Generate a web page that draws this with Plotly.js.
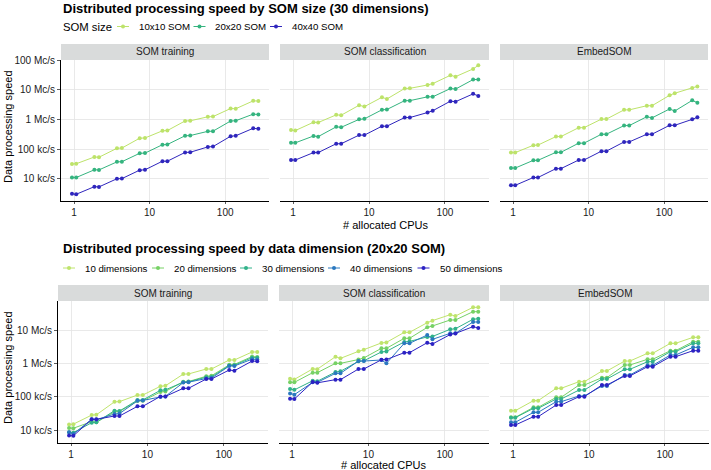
<!DOCTYPE html>
<html>
<head>
<meta charset="utf-8">
<script src="https://cdn.plot.ly/plotly-3.0.1.min.js"></script>
<style>html,body{margin:0;padding:0;background:#fff;}#chart{width:711px;height:470px;}</style>
</head>
<body>
<div id="chart"></div>
<script>
// ---------- DATA (speeds in kc/s, cpus jittered as plotted) ----------
const cpus = [0.94,1.07, 1.86,2.14, 3.7,4.3, 7.4,8.7, 14.8,17.2, 29.5,34.5, 59,69, 118,138, 235,275];

const panelNames = ["SOM training", "SOM classification", "EmbedSOM"];
const yTickVals = [1e4, 1e5, 1e6, 1e7, 1e8];
const yTickText = ["10 kc/s", "100 kc/s", "1 Mc/s", "10 Mc/s", "100 Mc/s"];
const xTickVals = [1, 10, 100];
const xTickText = ["1", "10", "100"];

const somSizes = ["10x10 SOM", "20x20 SOM", "40x40 SOM"];
const somColors = ["#bde36a", "#35b47f", "#2f26bd"];
const trainSom10 = [31.5,32, 54,53, 106,108, 232,236, 412,420, 885,895, 1220,1240, 2320,2280, 4200,4150];
const trainSom20 = [11,11, 20,19.8, 37,37.5, 72,73, 140,142, 280,285, 395,400, 880,900, 1500,1460];
const trainSom40 = [3.1,3.0, 5.4,5.3, 10,10.1, 19.5,20, 39,39, 77,78, 118,121, 270,280, 500,480];
const classSom10 = [435,420, 800,780, 1420,1380, 2990,2690, 5540,4860, 11000,11100, 14400,16000, 30500,27500, 50100,66100];
const classSom20 = [162,162, 275,262, 560,540, 1000,1040, 2100,2150, 4270,4270, 5750,5750, 10900,10500, 21900,22100];
const classSom40 = [42.7,42.7, 76,76, 151,151, 295,295, 589,589, 1150,1150, 1700,1950, 4100,3950, 7240,6170];
const embedSom10 = [76,76, 134,136, 263,263, 525,525, 1020,1020, 2090,2090, 2880,2880, 6460,7590, 11500,12900];
const embedSom20 = [22.9,22.9, 41.7,41.7, 77.6,77.6, 158,158, 316,316, 617,617, 1230,1120, 2240,1910, 4370,3630];
const embedSom40 = [6.0,6.0, 11,11, 21.9,21.9, 42.7,42.7, 85,85, 174,174, 316,316, 631,631, 1000,1170];

const dims = ["10 dimensions", "20 dimensions", "30 dimensions", "40 dimensions", "50 dimensions"];
const dimColors = ["#bfe46c", "#76d165", "#31b28a", "#2a78bf", "#2c22c3"];
const trainDim10 = [14.5,15, 28,28.5, 70,71, 112,112, 205,212, 475,480, 676,676, 1260,1260, 2190,2190];
const trainDim20 = [11.5,11.3, 17.8,17, 35,36, 74,75, 138,144, 280,284, 410,424, 900,925, 1600,1560];
const trainDim30 = [8.5,8.3, 16.6,17, 38,37, 79,80, 155,160, 272,278, 385,392, 860,880, 1480,1480];
const trainDim40 = [8.5,7.6, 21,20.5, 30,31, 75,77, 98,102, 265,272, 350,360, 830,835, 1330,1310];
const trainDim50 = [6.8,6.7, 20.9,20.9, 26.3,26.3, 51.3,51.3, 102,102, 178,178, 339,339, 631,600, 1170,1150];
const classDim10 = [345,330, 680,670, 1580,1410, 2290,2570, 4100,4250, 8500,8500, 16600,19100, 28800,26300, 47900,47900];
const classDim20 = [269,269, 525,525, 1000,1000, 1300,1450, 2820,2820, 5620,5620, 12000,13200, 20000,20000, 35500,35500];
const classDim30 = [170,160, 300,290, 550,575, 1150,1190, 2200,2280, 4400,4550, 6200,6400, 10500,10900, 21000,21800];
const classDim40 = [125,115, 269,269, 501,501, 1170,1170, 1260,1000, 3980,3980, 7080,5250, 7940,7940, 17400,17400];
const classDim50 = [87,85, 275,260, 324,324, 676,676, 1280,1300, 2090,2090, 4170,3800, 7300,7900, 12600,11500];
const embedDim10 = [38,38, 76,76, 178,178, 282,282, 589,589, 1170,1170, 2000,2000, 3980,3980, 6030,6030];
const embedDim20 = [24,24, 47.9,47.9, 95.5,95.5, 224,224, 372,372, 891,891, 1320,1320, 2400,2400, 4470,4470];
const embedDim30 = [23.4,23.4, 44.7,44.7, 85.1,85.1, 158,158, 339,339, 661,661, 1120,1120, 2240,2240, 3980,3980];
const embedDim40 = [17,17, 33.9,33.9, 70.8,70.8, 105,105, 209,209, 447,447, 871,871, 1780,1780, 3020,3020];
const embedDim50 = [14.1,14.1, 25.1,25.1, 56.2,56.2, 100,100, 224,224, 417,417, 794,794, 1580,1580, 2400,2400];

const topSeries = [[trainSom10, trainSom20, trainSom40], [classSom10, classSom20, classSom40], [embedSom10, embedSom20, embedSom40]];
const botSeries = [[trainDim10, trainDim20, trainDim30, trainDim40, trainDim50],
                   [classDim10, classDim20, classDim30, classDim40, classDim50],
                   [embedDim10, embedDim20, embedDim30, embedDim40, embedDim50]];

// ---------- LAYOUT GEOMETRY (pixels) ----------
const W = 711, H = 470;
const FONT = "Liberation Sans, Arial, Helvetica, sans-serif";
const px = p => p / W;
const py = p => 1 - p / H;
const topPanels = [[61,269],[280,489],[500,708]];
const botPanels = [[58,268],[279,489],[500,709]];
const topY = [60, 201], botY = [301, 443];
const topStrip = [44, 60], botStrip = [285, 301];

const traces = [];
function addRow(seriesSets, names, colors, axOffset) {
  seriesSets.forEach((set, p) => {
    set.forEach((vals, s) => {
      const k = axOffset + p + 1 === 1 ? "" : axOffset + p + 1;
      traces.push({
        type: "scatter", mode: "lines+markers",
        x: cpus, y: vals.map(v => v * 1000),
        name: names[s],
        line: {color: colors[s], width: 1},
        marker: {color: colors[s], size: 4},
        xaxis: "x" + k, yaxis: "y" + k,
        showlegend: false, hoverinfo: "x+y"
      });
    });
  });
}
addRow(topSeries, somSizes, somColors, 0);
addRow(botSeries, dims, dimColors, 3);

const layout = {
  width: W, height: H, showlegend: false,
  margin: {l: 0, r: 0, t: 0, b: 0},
  paper_bgcolor: "#ffffff", plot_bgcolor: "#ffffff",
  font: {family: FONT, size: 10, color: "#1a1a1a"},
  shapes: [], annotations: []
};

function axes(idx, dx, dy, first, yRange) {
  const k = idx === 1 ? "" : idx;
  layout["xaxis" + k] = {
    type: "log", domain: [px(dx[0]), px(dx[1])], range: [-0.172, 2.58],
    anchor: "y" + k, tickvals: xTickVals, ticktext: xTickText,
    showgrid: true, gridcolor: "#e3e3e3", gridwidth: 0.8, zeroline: false,
    showline: true, linecolor: "#000", linewidth: 1,
    ticks: "outside", ticklen: 2, tickcolor: "#333", tickwidth: 0.8,
    tickfont: {size: 10, color: "#1a1a1a", family: FONT}, fixedrange: true
  };
  layout["yaxis" + k] = {
    type: "log", domain: [py(dy[1]), py(dy[0])], range: yRange,
    anchor: "x" + k, tickvals: yTickVals, ticktext: yTickText,
    showgrid: true, gridcolor: "#e3e3e3", gridwidth: 0.8, zeroline: false,
    showline: first, linecolor: "#000", linewidth: 1,
    ticks: first ? "outside" : "", ticklen: 3, tickcolor: "#333", tickwidth: 0.8,
    showticklabels: first,
    tickfont: {size: 10, color: "#1a1a1a", family: FONT}, fixedrange: true
  };
}
topPanels.forEach((d, i) => axes(i + 1, d, topY, i === 0, [3.25, 8.0]));
botPanels.forEach((d, i) => axes(i + 4, d, botY, i === 0, [3.61, 7.87]));

function strips(panels, st) {
  panels.forEach((d, i) => {
    layout.shapes.push({type: "rect", xref: "paper", yref: "paper",
      x0: px(d[0]), x1: px(d[1]), y0: py(st[1]), y1: py(st[0]),
      fillcolor: "#d9dbdb", line: {width: 0}, layer: "below"});
    layout.annotations.push({xref: "paper", yref: "paper", x: px((d[0] + d[1]) / 2), y: py((st[0] + st[1]) / 2),
      text: panelNames[i], showarrow: false, xanchor: "center", yanchor: "middle",
      font: {size: 10, color: "#1a1a1a", family: FONT}});
  });
}
strips(topPanels, topStrip);
strips(botPanels, botStrip);

function ann(text, x, y, opts) {
  layout.annotations.push(Object.assign({xref: "paper", yref: "paper", x: px(x), y: py(y), text: text,
    showarrow: false, xanchor: "left", yanchor: "middle", font: {size: 11, color: "#000", family: FONT}}, opts || {}));
}
ann("<b>Distributed processing speed by SOM size (30 dimensions)</b>", 61, 8, {font: {size: 13, color: "#000", family: FONT}});
ann("<b>Distributed processing speed by data dimension (20x20 SOM)</b>", 61, 248, {font: {size: 13, color: "#000", family: FONT}});
ann("# allocated CPUs", 385, 224.5, {xanchor: "center"});
ann("# allocated CPUs", 384, 464.5, {xanchor: "center"});
ann("Data processing speed", 8, 127, {xanchor: "center", textangle: -90});
ann("Data processing speed", 8, 368, {xanchor: "center", textangle: -90});

// ---------- LEGENDS (keys: short line + dot, ggplot style) ----------
function legendRow(names, colors, textXs, yc) {
  names.forEach((nm, i) => {
    const kc = textXs[i] - 14;
    layout.shapes.push({type: "line", xref: "paper", yref: "paper",
      x0: px(kc - 6), x1: px(kc + 6), y0: py(yc), y1: py(yc), line: {color: colors[i], width: 1}});
    layout.shapes.push({type: "circle", xref: "paper", yref: "paper",
      x0: px(kc - 2), x1: px(kc + 2), y0: py(yc + 2), y1: py(yc - 2),
      fillcolor: colors[i], line: {color: colors[i], width: 0}});
    ann(nm, textXs[i], yc, {font: {size: 9.7, color: "#000", family: FONT}});
  });
}
ann("SOM size", 61, 26.5, {font: {size: 11.3, color: "#000", family: FONT}});
legendRow(somSizes, somColors, [137, 213.5, 290], 26.5);
legendRow(dims, dimColors, [83, 172, 260, 348, 437.5], 268);

Plotly.newPlot("chart", traces, layout, {staticPlot: true, displayModeBar: false});
</script>
</body>
</html>
